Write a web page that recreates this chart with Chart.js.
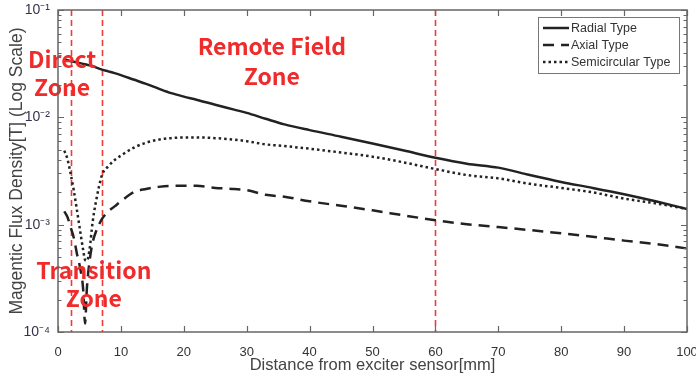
<!DOCTYPE html>
<html>
<head>
<meta charset="utf-8">
<script src="https://cdn.jsdelivr.net/npm/chart.js@4.4.0/dist/chart.umd.min.js"></script>
<style>
  html, body { margin: 0; padding: 0; background: #fff; }
  #wrap { width: 696px; height: 378px; }
</style>
</head>
<body>
<div id="wrap"><canvas id="fluxChart" width="696" height="378"></canvas></div>
<script>
// distance from exciter sensor [mm]
const distances = [1, 1.5, 2, 2.5, 3, 3.5, 4, 4.3, 4.6, 5, 5.5, 6, 7, 8, 9, 10, 12, 14, 16, 18,
    20, 22, 25, 28, 30, 33, 36, 40, 45, 50, 55, 60, 65, 70, 75, 80, 85, 90, 95, 100];

// magnetic flux density [T]
const radialType = [0.0345, 0.034, 0.0335, 0.033, 0.0325, 0.032, 0.0315, 0.0312, 0.0309, 0.0305, 0.030, 0.0292, 0.0278, 0.0268, 0.0258, 0.0247, 0.0225, 0.0205, 0.0185, 0.0168,
    0.0156, 0.0146, 0.0131, 0.0118, 0.011, 0.0097, 0.0086, 0.0076, 0.0066, 0.0057, 0.0049, 0.0042, 0.0037, 0.0034, 0.0029, 0.0025, 0.0022, 0.00192, 0.00165, 0.0014];
const axialType = [0.00133, 0.00118, 0.00095, 0.00076, 0.00054, 0.0004, 0.00025, 0.00012, 0.00026, 0.00045, 0.00068, 0.00085, 0.00113, 0.00133, 0.00148, 0.00165, 0.002, 0.00215, 0.00225, 0.0023,
    0.0023, 0.0023, 0.0022, 0.00215, 0.0021, 0.0019, 0.00182, 0.00165, 0.0015, 0.00136, 0.00122, 0.0011, 0.00101, 0.00095, 0.00089, 0.00083, 0.00077, 0.00071, 0.00066, 0.0006];
const semicircularType = [0.0049, 0.0041, 0.003, 0.0021, 0.00138, 0.00089, 0.00058, 0.00047, 0.00046, 0.00058, 0.00105, 0.0016, 0.0029, 0.0035, 0.004, 0.0044, 0.0052, 0.0058, 0.0062, 0.0064,
    0.0065, 0.0065, 0.0064, 0.0062, 0.006, 0.0056, 0.0054, 0.0051, 0.0047, 0.0043, 0.0038, 0.0033, 0.0029, 0.0027, 0.0024, 0.0022, 0.002, 0.00175, 0.00158, 0.0014];

// zone boundaries [mm]
const zoneLines = [2, 7, 60];

// zone captions, anchored in data coordinates
const zoneTexts = ['Direct', 'Zone', 'Remote Field', 'Zone', 'Transition', 'Zone'];
const zoneTextX = [0.65, 0.65, 34, 34, 5.7, 5.7];
const zoneTextY = [0.035, 0.0192, 0.0462, 0.0243, 0.00038, 0.000205];

const xTicks = [0, 10, 20, 30, 40, 50, 60, 70, 80, 90, 100];
const decades = [1e-4, 1e-3, 1e-2, 1e-1];

const sup = { '-': '⁻', '1': '¹', '2': '²', '3': '³', '4': '⁴' };
function powLabel(v) {
    const e = Math.round(Math.log10(v));
    return '10' + String(e).split('').map(c => sup[c]).join('');
}

function pts(ys) {
    return distances.map((x, i) => ({ x: x, y: ys[i] }));
}

const lineColor = '#222';
const frameColor = '#666';

const frame = {
    id: 'frame',
    beforeDatasetsDraw: chart => {
        const ctx = chart.ctx;
        const a = chart.chartArea;
        const x = chart.scales.x;
        ctx.save();
        ctx.strokeStyle = '#f03a3a';
        ctx.lineWidth = 1.6;
        ctx.setLineDash([6, 4]);
        zoneLines.forEach(v => {
            const px = Math.round(x.getPixelForValue(v)) + 0.5;
            ctx.beginPath();
            ctx.moveTo(px, a.top);
            ctx.lineTo(px, a.bottom);
            ctx.stroke();
        });
        ctx.restore();
    },
    afterDatasetsDraw: chart => {
        const ctx = chart.ctx;
        const a = chart.chartArea;
        const x = chart.scales.x;
        const y = chart.scales.y;

        ctx.save();
        // zone captions
        ctx.fillStyle = '#ef2b2b';
        ctx.font = 'bold 23px "Noto Sans CJK KR", "Noto Sans", sans-serif';
        ctx.textAlign = 'center';
        ctx.textBaseline = 'middle';
        zoneTexts.forEach((t, i) => {
            ctx.fillText(t, x.getPixelForValue(zoneTextX[i]), y.getPixelForValue(zoneTextY[i]));
        });

        // box and inward ticks
        ctx.strokeStyle = frameColor;
        ctx.lineWidth = 1.5;
        ctx.strokeRect(a.left, a.top, a.right - a.left, a.bottom - a.top);
        ctx.lineWidth = 1.2;
        ctx.beginPath();
        xTicks.forEach(v => {
            const px = Math.round(x.getPixelForValue(v)) + 0.5;
            ctx.moveTo(px, a.bottom); ctx.lineTo(px, a.bottom - 6);
            ctx.moveTo(px, a.top); ctx.lineTo(px, a.top + 6);
        });
        decades.forEach((d, i) => {
            for (let m = 1; m < 10; m++) {
                if (i === decades.length - 1 && m > 1) break;
                const py = Math.round(y.getPixelForValue(d * m)) + 0.5;
                const len = m === 1 ? 6 : 3.5;
                ctx.moveTo(a.left, py); ctx.lineTo(a.left + len, py);
                ctx.moveTo(a.right, py); ctx.lineTo(a.right - len, py);
            }
        });
        ctx.stroke();

        // legend
        const bx = a.right - 149, by = a.top + 7, bw = 141, bh = 56;
        ctx.fillStyle = '#fff';
        ctx.fillRect(bx, by, bw, bh);
        ctx.strokeStyle = '#777';
        ctx.lineWidth = 1;
        ctx.strokeRect(bx + 0.5, by + 0.5, bw, bh);
        ctx.font = '12.5px "Liberation Sans", Arial, sans-serif';
        ctx.textAlign = 'left';
        ctx.textBaseline = 'middle';
        chart.data.datasets.forEach((ds, i) => {
            const ly = by + 11 + i * 17;
            ctx.strokeStyle = ds.borderColor;
            ctx.lineWidth = ds.borderWidth;
            ctx.setLineDash(ds.borderDash || []);
            ctx.beginPath();
            ctx.moveTo(bx + 5, ly);
            ctx.lineTo(bx + 31, ly);
            ctx.stroke();
            ctx.setLineDash([]);
            ctx.fillStyle = '#333';
            ctx.fillText(ds.label, bx + 33, ly + 0.5);
        });
        ctx.restore();
    }
};

new Chart(document.getElementById('fluxChart'), {
    type: 'line',
    data: {
        datasets: [{
            label: 'Radial Type',
            data: pts(radialType),
            borderColor: lineColor,
            borderWidth: 2.5,
            borderDash: [],
            pointRadius: 0,
            cubicInterpolationMode: 'monotone'
        }, {
            label: 'Axial Type',
            data: pts(axialType),
            borderColor: lineColor,
            borderWidth: 2.5,
            borderDash: [11, 7],
            pointRadius: 0,
            cubicInterpolationMode: 'monotone'
        }, {
            label: 'Semicircular Type',
            data: pts(semicircularType),
            borderColor: lineColor,
            borderWidth: 2.5,
            borderDash: [2.5, 3],
            pointRadius: 0,
            cubicInterpolationMode: 'monotone'
        }]
    },
    options: {
        responsive: false,
        animation: false,
        layout: { padding: { top: 10, right: 9, left: 0, bottom: 0 } },
        plugins: { legend: { display: false }, tooltip: { enabled: false } },
        scales: {
            x: {
                type: 'linear',
                min: 0,
                max: 100,
                afterFit: s => { s.height = 46; s.paddingLeft = 0; s.paddingRight = 0; },
                afterBuildTicks: s => { s.ticks = xTicks.map(v => ({ value: v })); },
                border: { display: false },
                grid: { display: false },
                ticks: {
                    padding: 5,
                    color: '#333',
                    font: { family: '"Liberation Sans", Arial, sans-serif', size: 13 },
                    maxRotation: 0
                },
                title: {
                    display: true,
                    text: 'Distance from exciter sensor[mm]',
                    color: '#444',
                    padding: { top: 0, bottom: 3 },
                    font: { family: '"Liberation Sans", Arial, sans-serif', size: 16.5 }
                }
            },
            y: {
                type: 'logarithmic',
                min: 1e-4,
                max: 1e-1,
                afterFit: s => { s.width = 58; s.paddingTop = 0; s.paddingBottom = 0; },
                afterBuildTicks: s => { s.ticks = decades.map(v => ({ value: v, major: true })); },
                border: { display: false },
                grid: { display: false },
                ticks: {
                    autoSkip: false,
                    padding: 0,
                    color: '#33334d',
                    font: { family: '"Liberation Sans", Arial, sans-serif', size: 14 },
                    callback: v => powLabel(v)
                },
                title: {
                    display: true,
                    text: 'Magentic Flux Density[T] (Log Scale)',
                    color: '#444',
                    padding: { top: 7, bottom: 0 },
                    font: { family: '"Liberation Sans", Arial, sans-serif', size: 17.5 }
                }
            }
        }
    },
    plugins: [frame]
});
</script>
</body>
</html>
